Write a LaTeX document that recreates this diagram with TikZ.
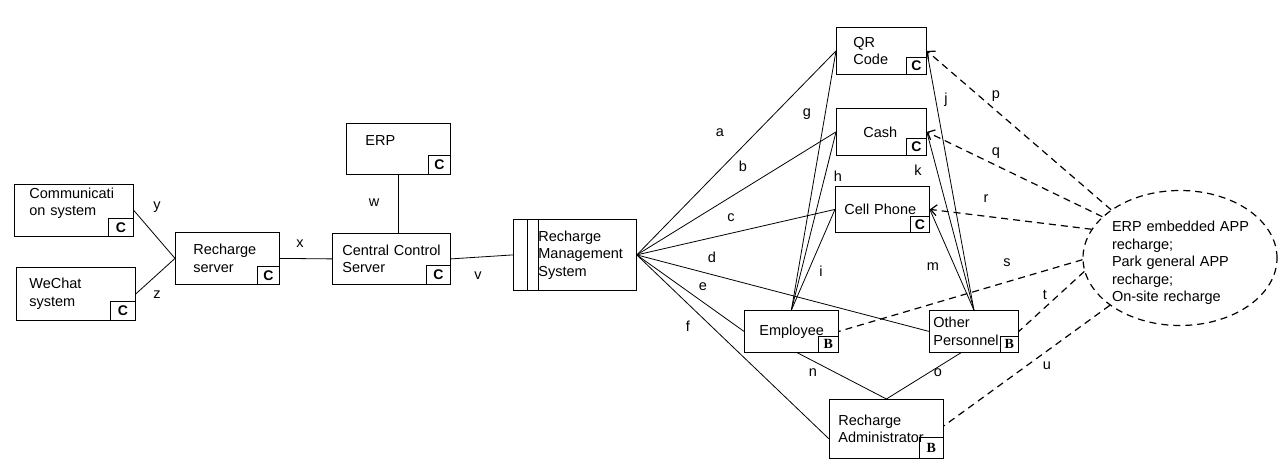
\documentclass[tikz,border=0pt]{standalone}
\usepackage{fontspec}
\setmainfont{Liberation Sans}
\newfontfamily\serifbold{Liberation Serif}
\usetikzlibrary{arrows.meta,shapes.geometric}
\tikzset{
  box/.style={draw, line width=0.8pt, anchor=north west, align=left, inner ysep=0pt},
  badge/.style={draw, line width=0.8pt, anchor=south east, inner sep=0pt, minimum width=21pt, minimum height=18pt, font=\fontsize{14}{14}\selectfont\bfseries},
  badgeb/.style={badge, font=\serifbold\fontsize{14}{14}\selectfont\bfseries},
  lnk/.style={line width=0.8pt},
  dlnk/.style={line width=1.2pt, dash pattern=on 7pt off 5pt},
  barb/.style={-{Straight Barb[length=6pt,width=11pt]}},
  lbl/.style={inner sep=0pt}
}
\begin{document}
\begin{tikzpicture}[x=1pt, y=-1pt, font=\fontsize{14.5}{17.5}\selectfont]
\useasboundingbox (0,0) rectangle (1286,476);
% boxes
\node[box, minimum height=52pt, inner xsep=15pt, text width=89pt] (comm) at (14,184) {Communicati\\on system\\ \mbox{}};
\node[badge, minimum width=25pt] (commc) at (comm.south east) {C};
\node[box, minimum height=53pt, inner xsep=13pt, text width=93pt] (wechat) at (16,267) {WeChat\\system};
\node[badge, minimum width=25pt, minimum height=19pt] (wechatc) at (wechat.south east) {C};
\node[box, minimum height=52pt, inner xsep=18pt, text width=68pt] (rserver) at (175,232) {Recharge\\server};
\node[badge, minimum width=22pt] (rserverc) at (rserver.south east) {C};
\node[box, minimum height=51pt, inner xsep=10pt, text width=98pt] (ccs) at (332,233) {\mbox{Central Control}\\Server};
\node[badge, minimum width=24pt, minimum height=19pt] (ccsc) at (ccs.south east) {C};
\node[box, minimum height=51pt, inner xsep=19pt, text width=66pt] (erp) at (346,123) {ERP\\ \mbox{}};
\node[badge, minimum width=22pt, minimum height=19pt] (erpc) at (erp.south east) {C};
\node[box, minimum height=71pt, inner xsep=25pt, text width=73pt] (rms) at (513,219) {Recharge\\Management\\System};
\draw[line width=0.8pt] ([xshift=14pt]rms.north west) -- ([xshift=14pt]rms.south west);
\draw[line width=0.8pt] ([xshift=25pt]rms.north west) -- ([xshift=25pt]rms.south west);
\node[box, minimum height=47pt, inner xsep=17pt, text width=56pt] (qr) at (836,27) {QR\\Code};
\node[badge, minimum width=20pt, minimum height=17pt] (qrc) at (qr.south east) {C};
\node[box, minimum height=47pt, inner xsep=27pt, text width=36pt] (cash) at (836,108) {Cash};
\node[badge, minimum width=20pt, minimum height=17pt] (cashc) at (cash.south east) {C};
\node[box, minimum height=46pt, inner xsep=9pt, text width=76pt] (cell) at (835,186) {\mbox{Cell Phone}};
\node[badge, minimum width=19pt, minimum height=16pt] (cellc) at (cell.south east) {C};
\node[box, minimum height=42pt, inner xsep=15pt, text width=64pt] (emp) at (744,310) {Employee};
\node[badgeb, minimum width=20pt, minimum height=16pt] (empb) at (emp.south east) {B};
\node[box, minimum height=42pt, inner xsep=4pt, text width=81pt] (other) at (929,310) {Other\\Personnel};
\node[badgeb, minimum width=18pt, minimum height=16pt] (otherb) at (other.south east) {B};
\node[box, minimum height=59pt, inner xsep=9pt, text width=96pt] (admin) at (829,399) {Recharge\\Administrator};
\node[badgeb, minimum width=24pt, minimum height=21pt] (adminb) at (admin.south east) {B};
\node[ellipse, draw, dlnk, inner sep=0pt, minimum width=194pt, minimum height=135pt, text width=136pt, align=left] (ell) at (1180,258) {\rule{0pt}{21pt}\mbox{ERP embedded APP}\\recharge;\\\mbox{Park general APP}\\recharge;\\\mbox{On-site recharge}};
% solid links
\draw[lnk] (comm.east) -- (rserver.west);
\draw[lnk] (wechat.east) -- (rserver.west);
\draw[lnk] (rserver.east) -- (ccs.west);
\draw[lnk] (erp.south) -- (erp.south |- ccs.north);
\draw[lnk] (ccs.east) -- (rms.west);
\foreach \n in {qr,cash,cell,other,emp} {\draw[lnk] (rms.east) -- (\n.west);}
\draw[lnk] (rms.east) -- ([yshift=-10pt]admin.west);
\foreach \n in {qr,cash,cell} {\draw[lnk] (emp.north) -- (\n.west);}
\foreach \n in {qr,cash,cell} {\draw[lnk] (other.north) -- (\n.east);}
\draw[lnk] ([xshift=6pt]emp.south) -- (admin.north);
\draw[lnk] ([xshift=-13pt]other.south) -- (admin.north);
% dashed links
\draw[dlnk, barb] (ell.145) -- (qr.east);
\draw[dlnk, barb] (ell.152) -- (cash.east);
\draw[dlnk, barb] (ell.162) -- (cell.east);
\draw[dlnk] (ell.181) -- (emp.east);
\draw[dlnk] (ell.188) -- (other.east);
\draw[dlnk] (ell.214) -- ([yshift=3pt]admin.east);
% letters
\foreach \t/\x/\y in {a/720/133, b/743/166, c/731/218, d/712/257, e/703/287, f/688/326,
  g/807/114, h/838/176, i/821/271, j/946/100, k/918/170, m/933/267, n/813/373, o/938/373,
  p/996/96, q/996/153, r/986/199, s/1007/263, t/1045/295, u/1047/366,
  v/478/276, w/374/203, x/300/244, y/157/207, z/157/295}
  {\node[lbl] (l\t) at (\x,\y) {\t};}
\end{tikzpicture}
\end{document}
